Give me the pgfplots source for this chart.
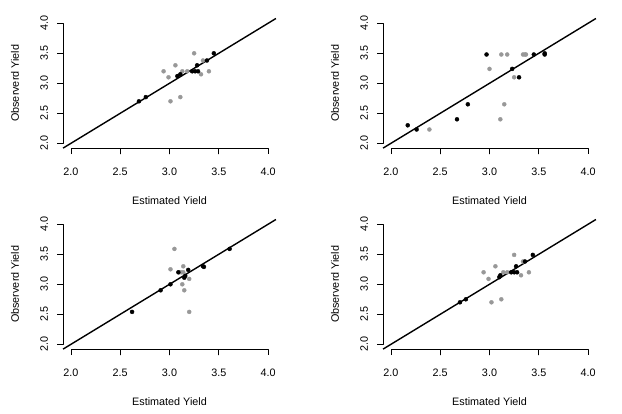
\documentclass[border=0pt]{standalone}
\usepackage{graphicx}
\usepackage{pgfplots}
\pgfplotsset{compat=1.18}
\usepackage{fontspec}
\setmainfont{Liberation Sans}

\definecolor{ptgray}{RGB}{152,152,152}

\newcommand{\panelfont}{\fontsize{10.8}{13}\selectfont}

% One panel: observed against estimated yield, with R-style detached axes
% (segments from 2 to 4 just outside the data region, outward ticks of 6pt)
\pgfplotsset{
  yieldpanel/.style={
    scale only axis, width=212.8pt, height=129.6pt,
    anchor=south west,
    xmin=1.92, xmax=4.08, ymin=1.92, ymax=4.08,
    hide axis,
    clip=false,
    after end axis/.code={
      \foreach \t/\s in {2/2.0, 2.5/2.5, 3/3.0, 3.5/3.5, 4/4.0}{
        \node[anchor=north, inner sep=0pt, font=\panelfont]
          at ([yshift=-19.6pt]axis cs:\t,1.92) {\s};
        \node[anchor=east, inner sep=0pt, font=\panelfont]
          at ([xshift=-14.8pt]axis cs:1.92,\t) {\rotatebox{90}{\s}};
      }
      \node[anchor=base, inner sep=0pt, font=\panelfont]
        at ([yshift=-56pt]axis cs:3,1.92) {Estimated Yield};
      \node[anchor=east, inner sep=0pt, font=\panelfont]
        at ([xshift=-43.8pt]axis cs:1.92,3) {\rotatebox{90}{Observerd Yield}};
    },
  },
  frameline/.style={black, line width=0.9pt, line join=bevel, no marks},
  grayobs/.style={only marks, mark=*, mark size=2pt, color=ptgray, mark options={draw=none, fill=ptgray}},
  blackobs/.style={only marks, mark=*, mark size=2pt, color=black, mark options={draw=none, fill=black}},
  oneone/.style={black, line width=1.4pt, no marks},
}

% axis segments with their tick marks
\newcommand{\yieldframe}{%
  \addplot[frameline] coordinates {(2,1.82) (2,1.92) (2.5,1.92) (2.5,1.82) (2.5,1.92)
    (3,1.92) (3,1.82) (3,1.92) (3.5,1.92) (3.5,1.82) (3.5,1.92) (4,1.92) (4,1.82)};
  \addplot[frameline] coordinates {(1.8591,2) (1.92,2) (1.92,2.5) (1.8591,2.5) (1.92,2.5)
    (1.92,3) (1.8591,3) (1.92,3) (1.92,3.5) (1.8591,3.5) (1.92,3.5) (1.92,4) (1.8591,4)};
}

\begin{document}
\begin{tikzpicture}[x=1pt,y=1pt]
\useasboundingbox (0,0) rectangle (622,414);

% top left
\begin{axis}[yieldpanel, at={(63.1pt,265.9pt)}]
  \yieldframe
  \addplot[grayobs] coordinates {(2.94,3.20) (2.99,3.10) (3.06,3.30) (3.01,2.70) (3.11,2.77)
    (3.13,3.20) (3.18,3.20) (3.25,3.50) (3.32,3.15) (3.34,3.38) (3.40,3.20)};
  \addplot[oneone] coordinates {(1.92,1.92) (4.08,4.08)};
  \addplot[blackobs] coordinates {(2.69,2.70) (2.76,2.77) (3.08,3.12) (3.11,3.15) (3.23,3.20)
    (3.26,3.20) (3.29,3.20) (3.28,3.30) (3.38,3.38) (3.45,3.50)};
\end{axis}

% top right
\begin{axis}[yieldpanel, at={(383.1pt,265.9pt)}]
  \yieldframe
  \addplot[grayobs] coordinates {(2.39,2.23) (3.00,3.24) (3.12,3.48) (3.18,3.48) (3.25,3.10)
    (3.15,2.65) (3.11,2.40) (3.34,3.48) (3.36,3.48) (3.37,3.48)};
  \addplot[oneone] coordinates {(1.92,1.92) (4.08,4.08)};
  \addplot[blackobs] coordinates {(2.17,2.30) (2.26,2.23) (2.67,2.40) (2.78,2.65) (2.97,3.48)
    (3.23,3.24) (3.30,3.10) (3.45,3.48) (3.56,3.50) (3.56,3.48)};
\end{axis}

% bottom left
\begin{axis}[yieldpanel, at={(63.1pt,64.9pt)}]
  \yieldframe
  \addplot[grayobs] coordinates {(3.05,3.59) (3.01,3.25) (3.14,3.30) (3.10,3.20) (3.12,3.20)
    (3.14,3.20) (3.20,3.09) (3.13,3.00) (3.15,2.90) (3.20,2.54)};
  \addplot[oneone] coordinates {(1.92,1.92) (4.08,4.08)};
  \addplot[blackobs] coordinates {(2.62,2.54) (2.91,2.90) (3.01,3.00) (3.09,3.20) (3.15,3.11)
    (3.16,3.14) (3.19,3.24) (3.34,3.30) (3.35,3.29) (3.61,3.59)};
\end{axis}

% bottom right
\begin{axis}[yieldpanel, at={(383.1pt,64.9pt)}]
  \yieldframe
  \addplot[grayobs] coordinates {(2.94,3.20) (2.99,3.09) (3.06,3.30) (3.02,2.70) (3.12,2.75)
    (3.14,3.20) (3.18,3.20) (3.25,3.49) (3.32,3.15) (3.34,3.38) (3.40,3.20)};
  \addplot[oneone] coordinates {(1.92,1.92) (4.08,4.08)};
  \addplot[blackobs] coordinates {(2.70,2.70) (2.76,2.75) (3.10,3.12) (3.11,3.15) (3.22,3.20)
    (3.25,3.20) (3.28,3.20) (3.27,3.30) (3.36,3.38) (3.44,3.49)};
\end{axis}
\end{tikzpicture}
\end{document}
